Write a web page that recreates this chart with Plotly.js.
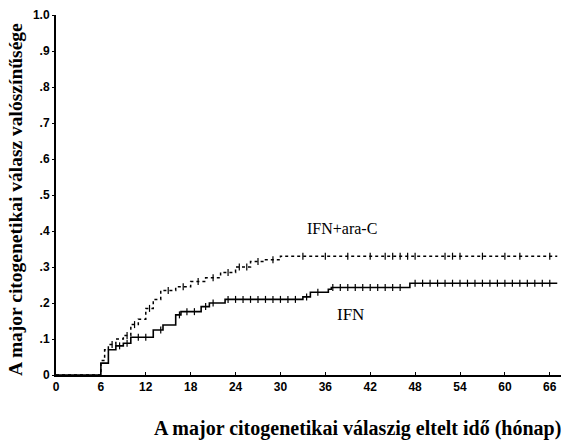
<!DOCTYPE html>
<html><head><meta charset="utf-8">
<script src="https://cdn.plot.ly/plotly-3.0.1.min.js"></script>
<style>body{margin:0;background:#fff}#c{width:570px;height:443px}</style>
</head><body><div id="c"></div>
<script>
// Kaplan–Meier style step data
const comboMonths = [0, 6, 6.5, 7, 8, 9, 10, 11, 12, 13, 14, 16, 18, 20, 22, 24, 26, 28, 30, 67];
const comboProb   = [0, 0.04, 0.07, 0.085, 0.10, 0.11, 0.14, 0.155, 0.185, 0.21, 0.235, 0.245, 0.26, 0.27, 0.285, 0.30, 0.315, 0.32, 0.33, 0.33];
const ifnMonths = [0, 6, 7, 8, 9, 10, 13, 14.3, 16, 16.7, 19.4, 20.5, 22.6, 33, 34, 36.4, 36.8, 47.3, 67];
const ifnProb   = [0, 0.033, 0.07, 0.081, 0.088, 0.105, 0.125, 0.139, 0.167, 0.176, 0.19, 0.20, 0.21, 0.217, 0.23, 0.238, 0.243, 0.255, 0.255];
const comboCensor = [7.5, 9.5, 10.5, 12.5, 15, 17, 19, 21, 23, 24.5, 25.5, 27, 29, 33, 36, 39, 42, 44, 45, 46, 47, 48, 52, 53, 54, 57, 60, 62, 66];
const ifnCensor = [8.5, 9.5, 11, 12, 14, 16.5, 17.5, 18.5, 20, 21, 23, 24, 25, 26, 27, 28, 29, 30, 31, 32, 33.5, 35, 37, 38, 39, 40, 41, 42, 43, 44, 45, 46, 48, 49, 50, 51, 52, 53, 54, 55, 56, 57, 58, 59, 60, 61, 62, 63, 64, 65, 66];
const xTicks = [0, 6, 12, 18, 24, 30, 36, 42, 48, 54, 60, 66];
const yTicks = [0, 0.1, 0.2, 0.3, 0.4, 0.5, 0.6, 0.7, 0.8, 0.9, 1.0];
const yTickText = ['0', '.1', '.2', '.3', '.4', '.5', '.6', '.7', '.8', '.9', '1.0'];
const labelCombo = 'IFN+ara-C';
const labelIfn = 'IFN';
const xTitle = 'A major citogenetikai válaszig eltelt idő (hónap)';
const yTitle = 'A major citogenetikai válasz valószínűsége';

function stepAt(xs, ys, t) { let v = ys[0]; for (let i = 0; i < xs.length; i++) { if (xs[i] <= t) v = ys[i]; } return v; }

const tickMarker = {symbol: 'line-ns-open', size: 5, color: '#000', line: {color: '#000', width: 1.2}};
const traces = [
  {x: comboMonths, y: comboProb, mode: 'lines', line: {shape: 'hv', color: '#000', width: 1.5, dash: 'dot'}, hoverinfo: 'skip'},
  {x: ifnMonths, y: ifnProb, mode: 'lines', line: {shape: 'hv', color: '#000', width: 1.6}, hoverinfo: 'skip'},
  {x: comboCensor, y: comboCensor.map(t => stepAt(comboMonths, comboProb, t)), mode: 'markers', marker: tickMarker},
  {x: ifnCensor, y: ifnCensor.map(t => stepAt(ifnMonths, ifnProb, t)), mode: 'markers', marker: tickMarker}
];

const serif = 'Liberation Serif, Times New Roman, serif';
const pw = 570 - 56 - 9, ph = 443 - 15 - 68;
const layout = {
  width: 570, height: 443, showlegend: false,
  paper_bgcolor: '#fff', plot_bgcolor: '#fff',
  margin: {l: 56, r: 9, t: 15, b: 68},
  font: {family: 'Liberation Sans, Arial, sans-serif', color: '#000'},
  xaxis: {range: [0, 67.5], tickvals: xTicks, ticks: 'inside', ticklen: 3, tickcolor: '#000',
    showgrid: false, zeroline: false, showline: true, linecolor: '#000', linewidth: 2,
    tickfont: {size: 12, weight: 'bold'}, fixedrange: true},
  yaxis: {range: [0, 1], tickvals: yTicks, ticktext: yTickText, ticks: 'outside', ticklen: 2, tickcolor: '#000',
    showgrid: false, zeroline: false, showline: true, linecolor: '#000', linewidth: 2,
    tickfont: {size: 12, weight: 'bold'}, fixedrange: true},
  annotations: [
    {x: 38.2, y: 0.408, xref: 'x', yref: 'y', text: labelCombo, showarrow: false,
     font: {family: serif, size: 16}},
    {x: 39.3, y: 0.167, xref: 'x', yref: 'y', text: labelIfn, showarrow: false,
     font: {family: serif, size: 17}},
    {x: (563 - 56) / pw, y: (443 - 68 - 428) / ph, xref: 'paper', yref: 'paper', xanchor: 'right', yanchor: 'middle',
     text: xTitle, showarrow: false, font: {family: serif, size: 20, weight: 'bold'}},
    {x: (16 - 56) / pw, y: (375 - 200) / ph, xref: 'paper', yref: 'paper', xanchor: 'center', yanchor: 'middle',
     textangle: -90, text: yTitle, showarrow: false, font: {family: serif, size: 19.5, weight: 'bold'}}
  ]
};

Plotly.newPlot('c', traces, layout, {displayModeBar: false, staticPlot: true});
</script></body></html>
